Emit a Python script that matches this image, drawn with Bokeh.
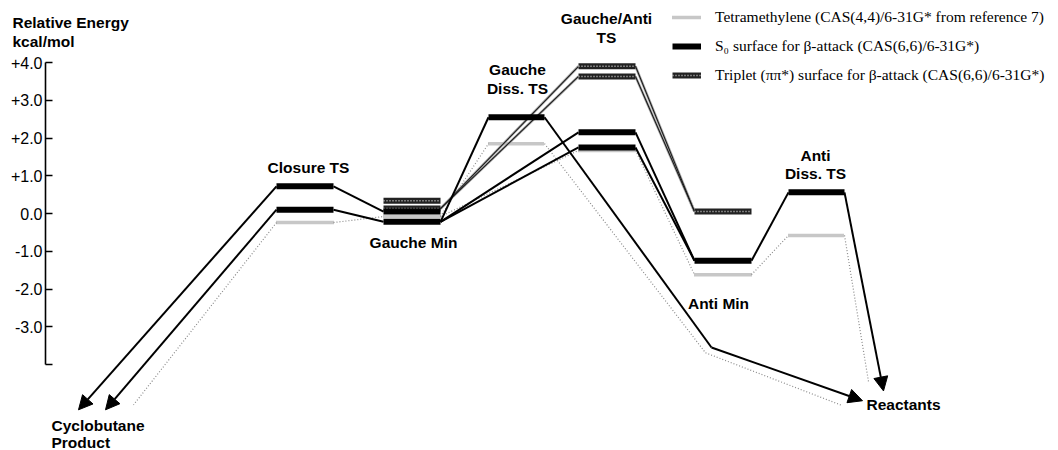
from bokeh.plotting import figure
from bokeh.models import (Range1d, FixedTicker, Arrow, NormalHead,
                          Legend, LegendItem)
from bokeh.core.properties import value
from bokeh.embed import file_html
from bokeh.resources import INLINE

# ------------------------------------------------------------------ data
states = ["Cyclobutane Product", "Closure TS", "Gauche Min", "Gauche Diss. TS",
          "Gauche/Anti TS", "Anti Min", "Anti Diss. TS", "Reactants"]

series_names = ["Tetramethylene (CAS(4,4)/6-31G* from reference 7)",
                "S\u2080 surface for \u03b2-attack (CAS(6,6)/6-31G*)",
                "Triplet (\u03c0\u03c0*) surface for \u03b2-attack (CAS(6,6)/6-31G*)"]

y_ticks = [-4, -3, -2, -1, 0, 1, 2, 3, 4]
y_tick_labels = ["", "-3.0", "-2.0", "-1.0", "0.0", "+1.0", "+2.0", "+3.0", "+4.0"]

# stationary-point energies (kcal/mol) for each surface
s0_levels = {"Closure TS": [0.72, 0.10], "Gauche Min": [0.05, -0.22],
             "Gauche Diss. TS": [2.55], "Gauche/Anti TS": [2.15, 1.75],
             "Anti Min": [-1.25], "Anti Diss. TS": [0.56]}
triplet_levels = {"Gauche Min": [0.34, 0.13], "Gauche/Anti TS": [3.90, 3.63],
                  "Anti Min": [0.05]}
tetra_levels = {"Closure TS": [-0.24], "Gauche Min": [-0.08],
                "Gauche Diss. TS": [1.85], "Gauche/Anti TS": [1.67],
                "Anti Min": [-1.62], "Anti Diss. TS": [-0.58]}

# pathways (state, energy); values below -4 run off the scale
s0_path_1 = [("Cyclobutane Product", -5.2), ("Closure TS", 0.72), ("Gauche Min", 0.05)]
s0_path_2 = [("Cyclobutane Product", -5.2), ("Closure TS", 0.10), ("Gauche Min", -0.22)]
s0_path_3 = [("Gauche Min", -0.22), ("Gauche Diss. TS", 2.55), ("Anti Min", -3.55),
             ("Reactants", -4.96)]
s0_path_4 = [("Gauche Min", -0.22), ("Gauche/Anti TS", 2.15), ("Anti Min", -1.25),
             ("Anti Diss. TS", 0.56), ("Reactants", -4.70)]
s0_path_5 = [("Gauche Min", -0.22), ("Gauche/Anti TS", 1.75), ("Anti Min", -1.25)]
triplet_path_1 = [("Gauche Min", 0.13), ("Gauche/Anti TS", 3.90), ("Anti Min", 0.05)]
triplet_path_2 = [("Gauche Min", 0.13), ("Gauche/Anti TS", 3.63), ("Anti Min", 0.05)]
tetra_path_1 = [("Cyclobutane Product", -5.07), ("Closure TS", -0.24), ("Gauche Min", -0.08),
                ("Gauche Diss. TS", 1.85), ("Anti Min", -3.69), ("Reactants", -5.09)]
tetra_path_2 = [("Gauche Min", -0.08), ("Gauche/Anti TS", 1.67), ("Anti Min", -1.62),
                ("Anti Diss. TS", -0.58), ("Reactants", -4.45)]

# ------------------------------------------------------------------ layout
BAR_X = {"Closure TS": (276, 333), "Gauche Min": (383, 440),
         "Gauche Diss. TS": (488, 544), "Gauche/Anti TS": (578, 635),
         "Anti Min": (694, 751), "Anti Diss. TS": (788, 844)}
POINT_X = {"s0_1": {"Cyclobutane Product": 78},
           "s0_2": {"Cyclobutane Product": 105},
           "s0_3": {"Anti Min": 711, "Reactants": 862},
           "s0_4": {"Reactants": 883},
           "t_1": {"Cyclobutane Product": 133, "Anti Min": 705, "Reactants": 842},
           "t_2": {"Reactants": 868}}

Y0, SCALE = 213.0, 37.75   # pixel helpers for placing text only
W, H, AXIS_X = 1058, 450, 45


def ey(py):
    return (Y0 - py) / SCALE


p = figure(width=W, height=H, x_range=Range1d(0, W),
           y_range=Range1d(ey(H), ey(0)), toolbar_location=None,
           output_backend="svg", x_axis_location=None, y_axis_location="left",
           min_border_left=0, min_border_right=0, min_border_top=0,
           min_border_bottom=0)
p.outline_line_color = None
p.xgrid.visible = False
p.ygrid.visible = False
p.background_fill_color = "white"

ax = p.yaxis[0]
ax.fixed_location = AXIS_X
ax.ticker = FixedTicker(ticks=y_ticks)
ax.major_label_overrides = {t: l for t, l in zip(y_ticks, y_tick_labels)}
ax.bounds = (y_ticks[0], y_ticks[-1])
ax.minor_tick_line_color = None
ax.major_tick_in = 7
ax.major_tick_out = 0
ax.axis_line_width = 1.6
ax.major_tick_line_width = 1.4
ax.major_label_standoff = 3
ax.major_label_text_font = "Liberation Sans"
ax.major_label_text_font_size = "16px"
ax.major_label_text_color = "black"


def build(path, levels, key):
    pts = []
    for st, e in path:
        if st in levels and e in levels[st]:
            xl, xr = BAR_X[st]
        else:
            xl = xr = POINT_X[key][st]
        pts.append((xl, xr, e, st))
    segs, arrows = [], []
    for i in range(len(pts) - 1):
        a, b = pts[i], pts[i + 1]
        if a[3] == "Cyclobutane Product":
            arrows.append((b[0], b[2], a[1], a[2]))
        elif b[3] == "Reactants":
            arrows.append((a[1], a[2], b[0], b[2]))
        else:
            segs.append((a[1], a[2], b[0], b[2]))
    return segs, arrows


def bars(levels):
    x0, x1, y = [], [], []
    for st, es in levels.items():
        for e in es:
            x0.append(BAR_X[st][0]); x1.append(BAR_X[st][1]); y.append(e)
    return x0, x1, y


def draw_segs(segs, **kw):
    if segs:
        p.segment([s[0] for s in segs], [s[1] for s in segs],
                  [s[2] for s in segs], [s[3] for s in segs], **kw)


# ---- tetramethylene (dotted grey)
t_segs = []
for key, path in (("t_1", tetra_path_1), ("t_2", tetra_path_2)):
    s, a = build(path, tetra_levels, key)
    t_segs += s + a
draw_segs(t_segs, line_color="#8a8a8a", line_width=1.2, line_dash="1 2")
bx0, bx1, by = bars(tetra_levels)
tetra_bar = p.segment(bx0, by, bx1, by, line_color="#8e8e8e", line_width=3.5,
                      line_dash="1 1")

# ---- triplet (hatched dark)
tr_segs = []
for key, path in (("tr_1", triplet_path_1), ("tr_2", triplet_path_2)):
    s, a = build(path, triplet_levels, key)
    tr_segs += s
draw_segs(tr_segs, line_color="#b0b0b0", line_width=2.6)
draw_segs(tr_segs, line_color="#1a1a1a", line_width=1.1)
bx0, bx1, by = bars(triplet_levels)
trip_bar = p.segment(bx0, by, bx1, by, line_color="#222222", line_width=6)
trip_hatch = p.segment(bx0, by, bx1, by, line_color="#d0d0d0", line_width=1.5,
                       line_dash="1 2")

# ---- S0 (solid black)
s_segs, s_arrows = [], []
for key, path in (("s0_1", s0_path_1), ("s0_2", s0_path_2), ("s0_3", s0_path_3),
                  ("s0_4", s0_path_4), ("s0_5", s0_path_5)):
    s, a = build(path, s0_levels, key)
    s_segs += s
    s_arrows += a
draw_segs(s_segs, line_color="black", line_width=2)
for xs, ys, xe, ye in s_arrows:
    p.add_layout(Arrow(x_start=xs, y_start=ys, x_end=xe, y_end=ye,
                       line_color="black", line_width=2,
                       end=NormalHead(size=14, fill_color="black",
                                      line_color="black", line_width=1)))
bx0, bx1, by = bars(s0_levels)
s0_bar = p.segment(bx0, by, bx1, by, line_color="black", line_width=6)

# ---- state labels
lab_x = [308, 413, 517, 517, 606, 606, 718, 815, 815]
lab_y = [ey(167), ey(242), ey(69), ey(88), ey(18), ey(37), ey(303), ey(155), ey(173)]
lab_t = ["Closure TS", "Gauche Min", "Gauche", "Diss. TS", "Gauche/Anti", "TS",
         "Anti Min", "Anti", "Diss. TS"]
p.text(lab_x, lab_y, text=lab_t, text_font=value("Liberation Sans"),
       text_font_style="bold", text_font_size="15.5px", text_align="center",
       text_baseline="middle", text_color="black")
p.text([866, 51, 51, 12, 12], [ey(404), ey(425), ey(442), ey(22), ey(41)],
       text=["Reactants", "Cyclobutane", "Product", "Relative Energy", "kcal/mol"],
       text_font=value("Liberation Sans"), text_font_style="bold",
       text_font_size="15.5px", text_align="left", text_baseline="middle",
       text_color="black")

# ---- legend
legend = Legend(items=[LegendItem(label=series_names[0], renderers=[tetra_bar]),
                       LegendItem(label=series_names[1], renderers=[s0_bar]),
                       LegendItem(label=series_names[2], renderers=[trip_bar, trip_hatch])],
                location=(672, H - 84), orientation="vertical",
                glyph_width=29, glyph_height=18, label_height=18, spacing=11,
                label_standoff=14, padding=0, margin=0,
                border_line_color=None, background_fill_alpha=0,
                label_text_font="Liberation Serif", label_text_font_size="15.5px",
                label_text_color="black")
p.add_layout(legend)

open("out.html", "w").write(file_html(p, INLINE))
